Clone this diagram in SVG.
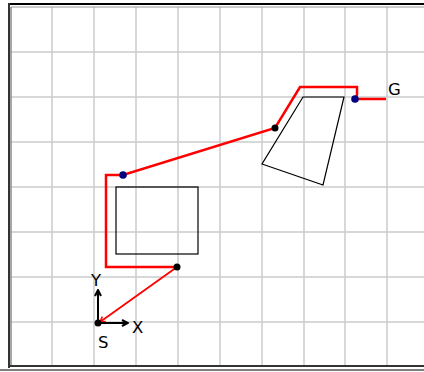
<svg xmlns="http://www.w3.org/2000/svg" width="424" height="372" viewBox="0 0 424 372">
<style>
.grid{stroke:#cccccc;stroke-width:1.5;fill:none}
.path{stroke:#ff0000;stroke-width:2.5;fill:none;stroke-linejoin:miter}
.obs{stroke:#000;stroke-width:1.2;fill:none}
.lbl{font-family:"DejaVu Sans",sans-serif;font-size:16.5px;fill:#000}
.axis{stroke:#000;stroke-width:2;fill:none}
</style>
<defs>
<marker id="ah" markerWidth="8" markerHeight="8" refX="7" refY="4" orient="auto" markerUnits="userSpaceOnUse">
<path d="M1,1 L7,4 L1,7" fill="none" stroke="#000" stroke-width="2"/>
</marker>
<marker id="rh" markerWidth="8" markerHeight="8" refX="6" refY="4" orient="auto" markerUnits="userSpaceOnUse">
<path d="M1,1 L6,4 L1,7" fill="none" stroke="#ff0000" stroke-width="1.5"/>
</marker>
</defs>
<rect x="0" y="0" width="424" height="372" fill="#fff"/>
<g id="grid">
<path class="grid" d="M52,7V366M94,7V366M136,7V366M178,7V366M220,7V366M262,7V366M304,7V366M345,7V366M387,7V366"/>
<path class="grid" d="M11,52H424M11,97H424M11,142H424M11,187H424M11,232H424M11,277H424M11,322H424"/>
</g>
<g id="frame">
<line x1="8" y1="4" x2="424" y2="4" stroke="#000" stroke-width="2"/>
<line x1="11" y1="7" x2="424" y2="7" stroke="#999" stroke-width="1"/>
<line x1="9" y1="3" x2="9" y2="368" stroke="#333" stroke-width="2"/>
<line x1="11" y1="7" x2="11" y2="366" stroke="#888" stroke-width="1.5"/>
<line x1="8" y1="366" x2="424" y2="366" stroke="#333" stroke-width="2"/>
<line x1="0" y1="370" x2="424" y2="370" stroke="#000" stroke-width="1.2"/>
</g>
<g id="obstacle1">
<rect class="obs" x="116" y="187" width="82" height="67"/>
</g>
<g id="obstacle2">
<polygon class="obs" points="303,97 344,97 323,185 262,164"/>
</g>
<g id="connectors">
<line x1="177" y1="267" x2="100" y2="322" stroke="#ff0000" stroke-width="1.8" marker-end="url(#rh)"/>
<polyline class="path" points="177,267 106,267 106,175 123,175 275,128 300,87 357,87 357,95 355,99 386,99"/>
</g>
<g id="axes">
<line class="axis" x1="98" y1="323" x2="98" y2="290" marker-end="url(#ah)"/>
<line class="axis" x1="98" y1="323" x2="128" y2="323" marker-end="url(#ah)"/>
</g>
<g id="nodes">
<g id="S"><circle cx="98" cy="323" r="3.5" fill="#000"/><text class="lbl" x="98" y="348">S</text></g>
<g id="n1"><circle cx="177" cy="267" r="3.5" fill="#000"/></g>
<g id="n2"><circle cx="123" cy="175" r="3.8" fill="#000080"/></g>
<g id="n3"><circle cx="275" cy="128" r="3.5" fill="#000"/></g>
<g id="n4"><circle cx="355" cy="99" r="3.8" fill="#000080"/></g>
<g id="G"><text class="lbl" x="388" y="95">G</text></g>
</g>
<text class="lbl" x="91" y="286">Y</text>
<text class="lbl" x="132" y="333">X</text>
</svg>
